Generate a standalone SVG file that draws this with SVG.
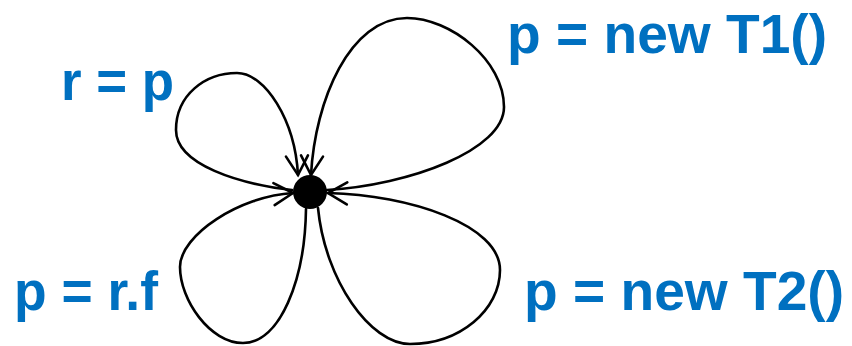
<svg xmlns="http://www.w3.org/2000/svg" width="852" height="346" viewBox="0 0 852 346">
  <style>
    .edge { fill: none; stroke: #000; stroke-width: 2.6; stroke-linecap: round; }
    .lbl { font-family: "Liberation Sans", Arial, sans-serif; font-weight: bold; font-size: 56px; fill: #0070C0; }
  </style>
  <defs>
    <marker id="arrow" markerUnits="userSpaceOnUse" markerWidth="24" markerHeight="26" viewBox="0 0 24 26" refX="21" refY="13" orient="auto">
      <path d="M2,2 L21,13 L2,24" fill="none" stroke="#000" stroke-width="2.6" stroke-linecap="round" stroke-linejoin="miter"/>
    </marker>
  </defs>
  <rect width="852" height="346" fill="#fff"/>
  <g id="connectors">
    <path id="loop-r-eq-p" class="edge" marker-end="url(#arrow)" d="M292,190 C240,184 176,165 176,130 C176,95 205,73 237,73 C265,73 295,120 298,175"/>
    <path id="loop-new-t1" class="edge" marker-end="url(#arrow)" d="M327,190 C410,185 504,150 504,107 C504,60 450,18 407,18 C350,18 315,100 311,175"/>
    <path id="loop-r-f" class="edge" marker-end="url(#arrow)" d="M306,209 C305,280 280,343 243,343 C210,343 180,300 180,267 C180,235 240,196 293,193"/>
    <path id="loop-new-t2" class="edge" marker-end="url(#arrow)" d="M318,208 C325,280 370,344 410,344 C460,344 500,310 500,270 C500,225 410,195 328,193"/>
  </g>
  <g id="node-p">
    <circle cx="310" cy="192" r="17" fill="#000"/>
  </g>
  <g id="label-r-eq-p">
    <text class="lbl" x="61" y="100" textLength="113" lengthAdjust="spacingAndGlyphs">r = p</text>
  </g>
  <g id="label-new-t1">
    <text class="lbl" x="507" y="53" textLength="320" lengthAdjust="spacingAndGlyphs">p = new T1()</text>
  </g>
  <g id="label-r-f">
    <text class="lbl" x="14" y="310" textLength="144" lengthAdjust="spacingAndGlyphs">p = r.f</text>
  </g>
  <g id="label-new-t2">
    <text class="lbl" x="524" y="310" textLength="320" lengthAdjust="spacingAndGlyphs">p = new T2()</text>
  </g>
</svg>
